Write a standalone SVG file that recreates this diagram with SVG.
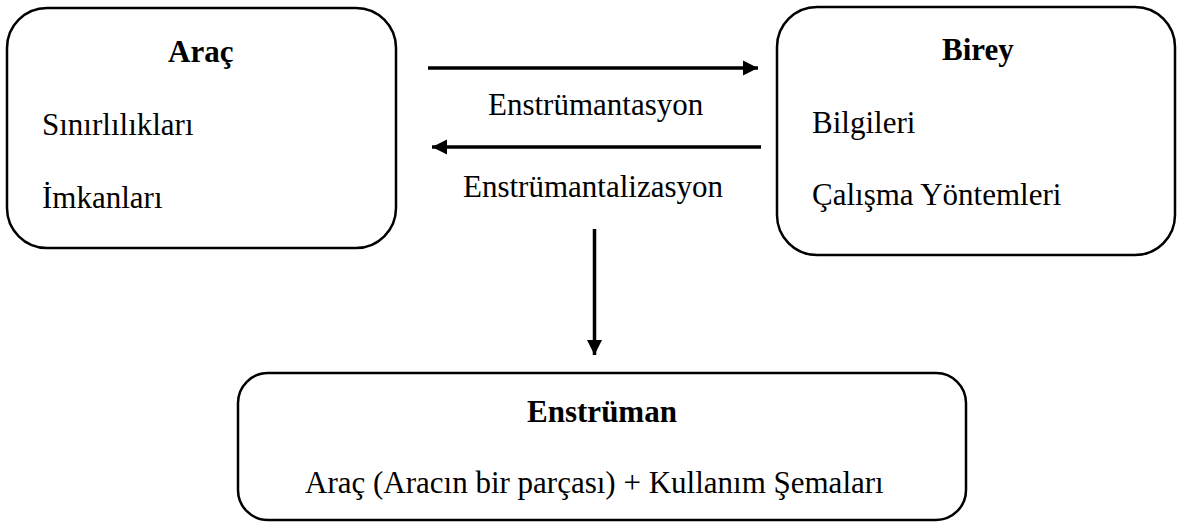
<svg xmlns="http://www.w3.org/2000/svg" width="1177" height="522" viewBox="0 0 1177 522">
<defs>
<style>
.box{fill:#fff;stroke:#000;stroke-width:2.5}
.t{font-family:"Liberation Serif","Times New Roman",serif;font-size:31px;fill:#000}
.b{font-weight:bold}
.c{text-anchor:middle}
.ln{stroke:#000;stroke-width:3.5;fill:none}
</style>
<marker id="ah" viewBox="0 0 10 10" refX="10" refY="5" markerWidth="4.3" markerHeight="4.3" markerUnits="strokeWidth" orient="auto">
<path d="M0,0 L10,5 L0,10 z" fill="#000"/>
</marker>
</defs>
<rect width="1177" height="522" fill="#fff"/>
<g id="arac">
<rect class="box" x="7" y="8" width="389" height="240" rx="40"/>
<text class="t b" x="168" y="62">Araç</text>
<text class="t" x="42" y="135">Sınırlılıkları</text>
<text class="t" x="42" y="208">İmkanları</text>
</g>
<g id="birey">
<rect class="box" x="777" y="7" width="398" height="248" rx="40"/>
<text class="t b" x="942" y="60">Birey</text>
<text class="t" x="812" y="133">Bilgileri</text>
<text class="t" x="812" y="205">Çalışma Yöntemleri</text>
</g>
<g id="enstruman">
<rect class="box" x="238" y="373" width="728" height="147" rx="30"/>
<text class="t b c" x="602" y="422">Enstrüman</text>
<text class="t" x="305" y="493">Araç (Aracın bir parçası) + Kullanım Şemaları</text>
</g>
<g id="connectors">
<line class="ln" x1="428" y1="68" x2="758" y2="68" marker-end="url(#ah)"/>
<line class="ln" x1="761" y1="147" x2="432" y2="147" marker-end="url(#ah)"/>
<line class="ln" x1="594.5" y1="229" x2="594.5" y2="355" marker-end="url(#ah)"/>
<text class="t" x="488" y="115">Enstrümantasyon</text>
<text class="t" x="463" y="197">Enstrümantalizasyon</text>
</g>
</svg>
